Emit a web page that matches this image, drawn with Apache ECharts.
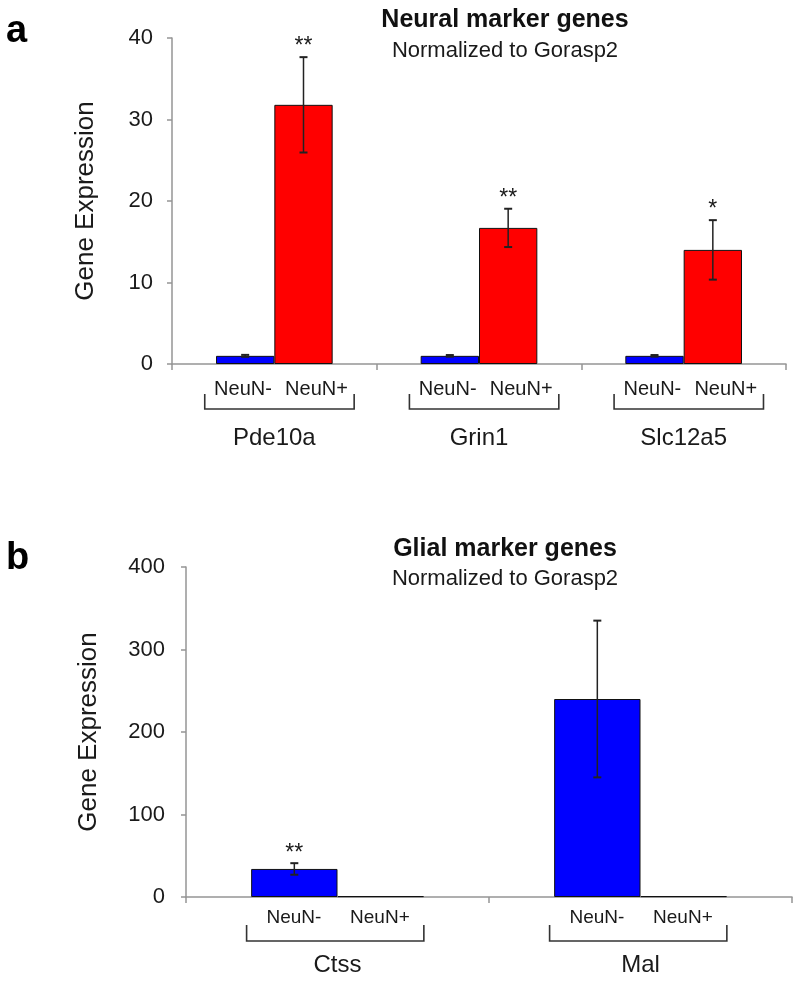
<!DOCTYPE html>
<html><head><meta charset="utf-8">
<script src="https://cdn.jsdelivr.net/npm/echarts@6/dist/echarts.min.js"></script>
<style>html,body{margin:0;padding:0;background:#fff}#c{width:800px;height:988px}</style>
</head><body><div id="c"></div>
<script>
// ---- data ----
const neuralGenes = ['Pde10a', 'Grin1', 'Slc12a5'];
const neuralNeg = [1.0, 1.0, 1.0];
const neuralNegErr = [0.12, 0.1, 0.1];
const neuralPos = [31.8, 16.7, 14.0];
const neuralPosErr = [5.85, 2.35, 3.65];
const neuralStars = ['**', '**', '*'];
const neuralTicks = [0, 10, 20, 30, 40];

const glialGenes = ['Ctss', 'Mal'];
const glialNeg = [34, 240];
const glialNegErr = [7, 95];
const glialPos = [1, 1];
const glialPosErr = [0, 0];
const glialStars = ['**', ''];
const glialTicks = [0, 100, 200, 300, 400];

const groupLabels = ['NeuN-', 'NeuN+'];
const titles = ['Neural marker genes', 'Glial marker genes'];
const subtitle = 'Normalized to Gorasp2';
const yName = 'Gene Expression';

// ---- style ----
const FONT = '"Liberation Sans", Arial, sans-serif';
const BAR_FRAC = 0.285;
const AXIS_COLOR = '#959595';
const TEXT = '#1a1a1a';

const chart = echarts.init(document.getElementById('c'), null, {renderer: 'canvas'});

function errSeries(gridIdx, vals, errs, sign, stars) {
  const data = vals.map((v, i) => [i, v - errs[i], v + errs[i]]);
  return {
    type: 'custom', xAxisIndex: gridIdx, yAxisIndex: gridIdx, z: 5, silent: true,
    data: data, encode: {x: 0, y: [1, 2]},
    renderItem: function (params, api) {
      const cat = api.value(0), lo = api.value(1), hi = api.value(2);
      const band = api.size([1, 0])[0];
      const cx = api.coord([cat, 0])[0] + sign * band * BAR_FRAC / 2;
      const pLo = api.coord([cat, lo])[1], pHi = api.coord([cat, hi])[1];
      const cap = 4;
      const ch = [];
      if (hi - lo > 0) {
        ch.push({type: 'line', shape: {x1: cx, y1: pLo, x2: cx, y2: pHi}, style: {stroke: '#222', lineWidth: 1.5}});
        ch.push({type: 'line', shape: {x1: cx - cap, y1: pHi, x2: cx + cap, y2: pHi}, style: {stroke: '#222', lineWidth: 2}});
        ch.push({type: 'line', shape: {x1: cx - cap, y1: pLo, x2: cx + cap, y2: pLo}, style: {stroke: '#222', lineWidth: 2}});
      }
      const s = stars ? stars[params.dataIndex] : '';
      if (s) {
        ch.push({type: 'text', style: {text: s, x: cx, y: pHi - 10, align: 'center', verticalAlign: 'middle',
          fontSize: 23, fontFamily: FONT, fill: TEXT}});
      }
      return {type: 'group', children: ch};
    }
  };
}

function bracketSeries(gridIdx, cats, cfg) {
  return {
    type: 'custom', xAxisIndex: gridIdx, yAxisIndex: gridIdx, z: 5, silent: true, clip: false,
    data: cats.map((c, i) => [i, 0]), encode: {x: 0, y: 1},
    renderItem: function (params, api) {
      const cat = api.value(0);
      const band = api.size([1, 0])[0];
      const p = api.coord([cat, 0]);
      const cx = p[0], y0 = p[1];
      const xl = cx + cfg.bl * band, xr = cx + cfg.br * band;
      return {type: 'group', children: [
        {type: 'polyline', shape: {points: [[xl, y0 + cfg.bt], [xl, y0 + cfg.bh], [xr, y0 + cfg.bh], [xr, y0 + cfg.bt]]},
          style: {stroke: '#333', lineWidth: 1.6, fill: null}},
        {type: 'text', style: {text: groupLabels[0], x: cx + cfg.l0 * band, y: y0 + cfg.ty, align: 'center', verticalAlign: 'middle',
          fontSize: cfg.fs, fontFamily: FONT, fill: TEXT}},
        {type: 'text', style: {text: groupLabels[1], x: cx + cfg.l1 * band, y: y0 + cfg.ty, align: 'center', verticalAlign: 'middle',
          fontSize: cfg.fs, fontFamily: FONT, fill: TEXT}}
      ]};
    }
  };
}

function yAxisCfg(gridIdx, ticks, nameGap, margin) {
  return {
    gridIndex: gridIdx, type: 'value', min: ticks[0], max: ticks[ticks.length - 1], interval: ticks[1] - ticks[0],
    name: yName, nameLocation: 'middle', nameGap: nameGap, nameRotate: 90,
    nameTextStyle: {fontSize: 26, fontFamily: FONT, color: TEXT},
    axisLine: {show: true, lineStyle: {color: AXIS_COLOR, width: 1.5}},
    axisTick: {show: true, length: 5, lineStyle: {color: AXIS_COLOR, width: 1.5}},
    splitLine: {show: false},
    axisLabel: {fontSize: 22, fontFamily: FONT, color: TEXT, margin: margin}
  };
}

function xAxisCfg(gridIdx, cats, margin) {
  return {
    gridIndex: gridIdx, type: 'category', data: cats,
    axisLine: {show: true, lineStyle: {color: AXIS_COLOR, width: 1.5}},
    axisTick: {show: true, length: 6, interval: 0, lineStyle: {color: AXIS_COLOR, width: 1.5}},
    axisLabel: {fontSize: 24, fontFamily: FONT, color: TEXT, margin: margin, interval: 0}
  };
}

function barSeries(gridIdx, vals, color) {
  return {
    type: 'bar', xAxisIndex: gridIdx, yAxisIndex: gridIdx, data: vals,
    barWidth: (BAR_FRAC * 100) + '%', barGap: '0%',
    itemStyle: {color: color, borderColor: '#111', borderWidth: 1}, silent: true
  };
}

const option = {
  animation: false,
  backgroundColor: '#fff',
  grid: [
    {left: 172, right: 14, top: 38, height: 326},
    {left: 186, right: 8, top: 567, height: 330}
  ],
  xAxis: [xAxisCfg(0, neuralGenes, 62), xAxisCfg(1, glialGenes, 56)],
  yAxis: [yAxisCfg(0, neuralTicks, 73, 19), yAxisCfg(1, glialTicks, 84, 21)],
  graphic: [
    {type: 'text', left: 6, top: 13, style: {text: 'a', fontSize: 38, fontWeight: 'bold', fontFamily: FONT, fill: '#000'}},
    {type: 'text', left: 6, top: 540, style: {text: 'b', fontSize: 38, fontWeight: 'bold', fontFamily: FONT, fill: '#000'}},
    {type: 'text', x: 505, y: 20, style: {text: titles[0], align: 'center', verticalAlign: 'middle', fontSize: 25, fontWeight: 'bold', fontFamily: FONT, fill: '#111'}},
    {type: 'text', x: 505, y: 51, style: {text: subtitle, align: 'center', verticalAlign: 'middle', fontSize: 22, fontFamily: FONT, fill: TEXT}},
    {type: 'text', x: 505, y: 549, style: {text: titles[1], align: 'center', verticalAlign: 'middle', fontSize: 25, fontWeight: 'bold', fontFamily: FONT, fill: '#111'}},
    {type: 'text', x: 505, y: 579, style: {text: subtitle, align: 'center', verticalAlign: 'middle', fontSize: 22, fontFamily: FONT, fill: TEXT}}
  ],
  series: [
    barSeries(0, neuralNeg, '#0000ff'),
    barSeries(0, neuralPos, '#ff0000'),
    errSeries(0, neuralNeg, neuralNegErr, -1, null),
    errSeries(0, neuralPos, neuralPosErr, 1, neuralStars),
    bracketSeries(0, neuralGenes, {bl: -0.34, br: 0.39, bt: 30, bh: 45, ty: 25, l0: -0.153, l1: 0.206, fs: 20}),
    barSeries(1, glialNeg, '#0000ff'),
    barSeries(1, glialPos, '#ff0000'),
    errSeries(1, glialNeg, glialNegErr, -1, glialStars),
    errSeries(1, glialPos, glialPosErr, 1, null),
    bracketSeries(1, glialGenes, {bl: -0.30, br: 0.285, bt: 28, bh: 44, ty: 21, l0: -0.144, l1: 0.14, fs: 19})
  ]
};
chart.setOption(option);
</script>
</body></html>
